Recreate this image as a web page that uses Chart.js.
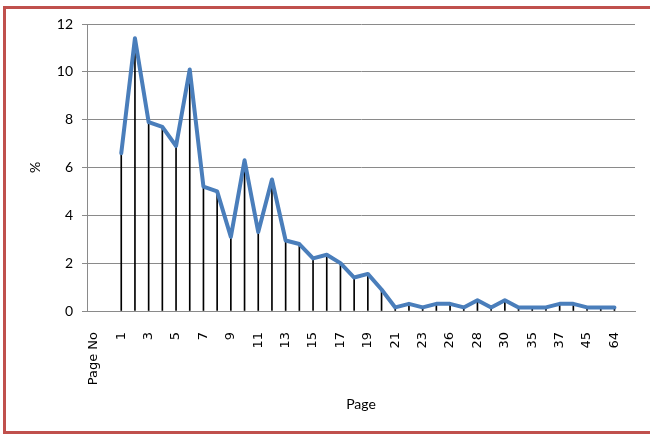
<!DOCTYPE html>
<html>
<head>
<meta charset="utf-8">
<script src="https://cdn.jsdelivr.net/npm/chart.js@4.4.1/dist/chart.umd.min.js"></script>
<style>
  html, body { margin: 0; padding: 0; background: #fff; overflow: hidden; }
  #wrap { position: relative; width: 650px; height: 434px; }
  #frame {
    position: absolute; left: 3px; top: 6px; width: 700px; height: 428px;
    box-sizing: border-box; border: 3px solid #c0504d; pointer-events: none;
  }
  canvas { position: absolute; left: 0; top: 0; }
</style>
</head>
<body>
<div id="wrap">
  <canvas id="chart" width="650" height="434"></canvas>
  <div id="frame"></div>
</div>
<script>
// Page categories (every other one is labelled on the axis)
const pages = [
  "Page No", "",
  "1", "2", "3", "4", "5", "6", "7", "8", "9", "10",
  "11", "12", "13", "14", "15", "16", "17", "18", "19", "20",
  "21", "22", "23", "24", "26", "27", "28", "29", "30", "31",
  "35", "36", "37", "38", "45", "46", "64", ""
];

// Share of visits ending on each page, in %
const percent = [
  null, null,
  6.6, 11.4, 7.9, 7.7, 6.9, 10.1, 5.2, 5.0, 3.1, 6.3,
  3.3, 5.5, 2.95, 2.8, 2.2, 2.35, 2.0, 1.4, 1.55, 0.9,
  0.15, 0.3, 0.15, 0.3, 0.3, 0.15, 0.45, 0.15, 0.45, 0.15,
  0.15, 0.15, 0.3, 0.3, 0.15, 0.15, 0.15, null
];

// Value axis ticks
const yTicks = [0, 2, 4, 6, 8, 10, 12];

const gridGray = '#8a8a8a';

new Chart(document.getElementById('chart'), {
  data: {
    labels: pages,
    datasets: [
      {
        type: 'line',
        label: '%',
        data: percent,
        borderColor: '#4a7ebb',
        borderWidth: 4,
        borderJoinStyle: 'round',
        borderCapStyle: 'round',
        pointRadius: 0,
        tension: 0,
        fill: false,
        order: 0
      },
      {
        // drop lines from each point down to the axis
        type: 'bar',
        label: 'drop',
        data: percent,
        backgroundColor: '#000000',
        barThickness: 1,
        order: 1
      }
    ]
  },
  options: {
    responsive: false,
    animation: false,
    devicePixelRatio: 1,
    layout: { padding: { left: 0, right: 15, top: 24, bottom: 0 } },
    plugins: {
      legend: { display: false },
      tooltip: { enabled: false }
    },
    scales: {
      x: {
        type: 'category',
        offset: true,
        grid: { display: false, drawTicks: false },
        border: { display: true, color: gridGray, width: 1 },
        ticks: {
          autoSkip: false,
          minRotation: 90,
          maxRotation: 90,
          padding: 21,
          color: '#000',
          font: { family: 'DejaVu Sans', size: 13 },
          callback: function (value, index) {
            return index % 2 === 0 ? this.getLabelForValue(value) : '';
          }
        },
        title: {
          display: true,
          text: 'Page',
          color: '#000',
          font: { family: 'Lato', size: 14 },
          padding: { top: 0, bottom: 21 }
        },
        afterFit: function (scale) {
          scale.height = 123;
          scale.paddingLeft = 0;
          scale.paddingRight = 0;
        }
      },
      y: {
        min: 0,
        max: 12,
        afterBuildTicks: function (scale) {
          scale.ticks = yTicks.map(v => ({ value: v }));
        },
        grid: { color: gridGray, lineWidth: 1, tickLength: 5, drawTicks: true },
        border: { display: true, color: gridGray, width: 1 },
        ticks: {
          padding: 9,
          color: '#000',
          font: { family: 'Lato', size: 14 }
        },
        title: {
          display: true,
          text: '%',
          color: '#000',
          font: { family: 'Lato', size: 14 },
          padding: { top: 27, bottom: 0 }
        },
        afterFit: function (scale) { scale.width = 87; }
      }
    }
  }
});
</script>
</body>
</html>
